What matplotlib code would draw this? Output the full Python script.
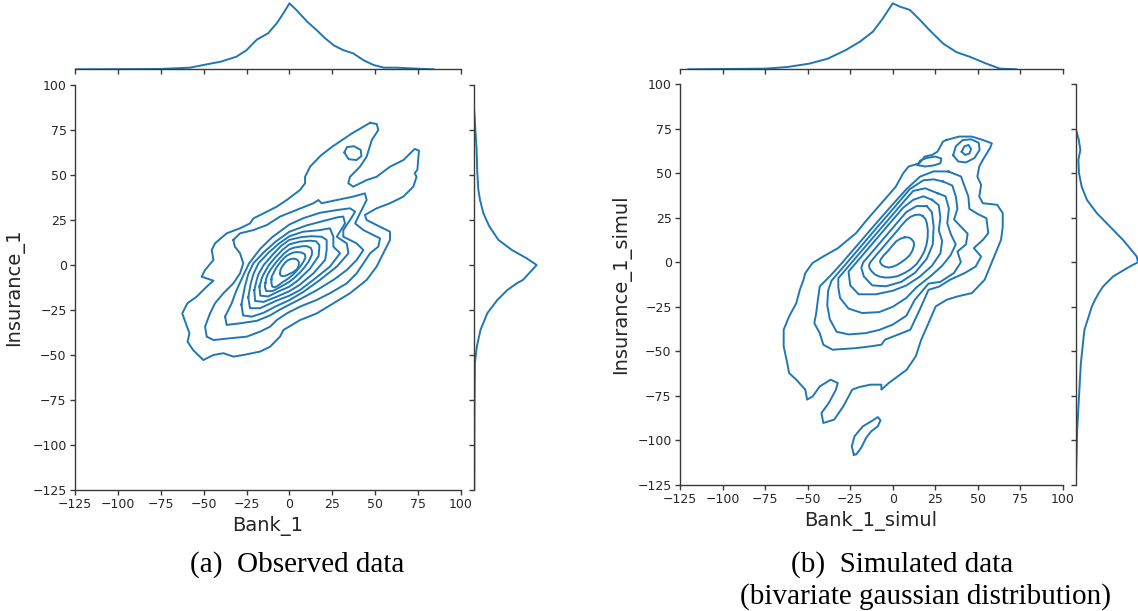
import matplotlib
matplotlib.use("Agg")
import matplotlib.pyplot as plt

BLUE = "#1f77b4"
EDGE = "#3a3a3a"
TEXT = "#262626"

# ---------------- axis ticks ----------------
x_ticks = [-125, -100, -75, -50, -25, 0, 25, 50, 75, 100]
y_ticks = [-125, -100, -75, -50, -25, 0, 25, 50, 75, 100]

# ---------------- marginal densities (relative to peak) ----------------
bank1_x = [-125, -100, -75, -58, -50, -40, -31, -25, -19, -12.5, -7.3, -3, 0, 4,
           10.4, 15.6, 20.8, 26, 31.4, 37.3, 43, 49, 55, 62.5, 70, 84]
bank1_d = [0.0, 0.002, 0.005, 0.025, 0.066, 0.116, 0.19, 0.29, 0.45, 0.545, 0.70,
           0.87, 1.0, 0.90, 0.72, 0.60, 0.47, 0.36, 0.29, 0.24, 0.14, 0.066, 0.025,
           0.025, 0.015, 0.0]

ins1_y = [85, 75.5, 64.4, 51.3, 42, 36.4, 28.9, 21.5, 14, 8.4, 3.7, 0, -8.3, -10.2,
          -13.9, -19.4, -26.7, -36, -45.4, -54.4, -82, -125]
ins1_d = [0.0, 0.016, 0.037, 0.048, 0.064, 0.09, 0.144, 0.24, 0.385, 0.6, 0.84, 1.0,
          0.78, 0.68, 0.53, 0.37, 0.21, 0.1, 0.04, 0.01, 0.003, 0.0]

bank1s_x = [-120, -74.5, -61.8, -49, -38.3, -27.7, -19.2, -11.7, -6.4, 0, 4.1, 10,
            15.9, 21.7, 29.6, 37.4, 45.2, 55, 62.9, 72.7]
bank1s_d = [0.0, 0.01, 0.035, 0.086, 0.16, 0.29, 0.42, 0.57, 0.75, 1.0, 0.95, 0.90,
            0.75, 0.59, 0.39, 0.26, 0.19, 0.086, 0.01, 0.0]

ins1s_y = [75, 68.6, 63, 57.4, 49.9, 42.4, 35, 27.5, 20, 12.5, 3.2, 0, -2.4, -8,
           -13.6, -17.3, -21.1, -24.8, -37.9, -56.6, -75.3, -94, -112.6, -125]
ins1s_d = [0.0, 0.05, 0.075, 0.043, 0.053, 0.096, 0.18, 0.34, 0.55, 0.76, 0.98, 1.0,
           0.87, 0.6, 0.44, 0.37, 0.31, 0.26, 0.14, 0.083, 0.053, 0.024, 0.01, 0.0]

# ---------------- observed data: KDE iso-lines (Bank_1, Insurance_1) ----------------
obs_l1 = [(47, 79), (36.4, 73.1), (24.9, 65.7), (18.5, 61), (12, 54.6), (9.1, 49),
          (9.1, 45.4), (6.2, 41.7), (-1.6, 36.1), (-7.4, 32.4), (-13.2, 29.6), (-21, 25.9),
          (-23, 23.1), (-28.8, 20.4), (-36.6, 17.6), (-43.4, 12), (-45.3, 8.3),
          (-44.3, 2.8), (-49.2, -2.8), (-51.2, -6.5), (-44.3, -8.7), (-48.2, -12),
          (-54.1, -17.6), (-59.5, -21.3), (-62.5, -26.9), (-60.4, -32.4), (-58.3, -37.9),
          (-59.4, -42.6), (-56.2, -47.2), (-50.2, -52.8), (-44.3, -50), (-38.5, -49),
          (-32.7, -50.9), (-26.9, -50), (-17.1, -48.1), (-11.3, -45.4), (-5.5, -39.8),
          (-3.5, -36.1), (6.2, -30.6), (15.9, -26.9), (25.6, -21.3), (35.3, -15.7),
          (45, -8.3), (50.8, -0.9), (54.7, 6.5), (58.6, 13.9), (58.6, 18.5), (50.8, 22.2),
          (45, 25), (44, 27.8), (50.8, 31.5), (58.6, 34.3), (66.4, 38), (72.2, 43.5),
          (74.1, 49), (73, 51), (74.6, 53), (75, 58), (75.5, 63.5), (73, 64.5),
          (66.4, 58.3), (58.6, 54.6), (50.8, 49), (45, 47.2), (37.2, 43.5), (34.3, 45.4),
          (35.3, 49), (41.1, 54.6), (45, 60.2), (48, 69.4), (51.8, 75), (50.9, 78.3)]
obs_island = [(32, 62.5), (33.5, 65.5), (37.5, 66), (41.5, 64), (42, 60.5), (39, 58.3),
              (34.5, 58.8)]
obs_l2 = [(-32.7, 13.9), (-28.8, 17.6), (-21, 19.4), (-13.2, 22.2), (-5.5, 26.9),
          (4.2, 30.6), (13.9, 34.3), (16.9, 36.1), (18.8, 34.3), (27.6, 36.1), (37.2, 38),
          (44, 39.8), (45, 36.1), (42.1, 30.6), (40.2, 27), (38.3, 23.1), (43.1, 19.4),
          (52.8, 14.8), (51.8, 10.2), (47, 6.5), (43.1, 0.9), (39.2, -4.6), (33.4, -10.2),
          (23.6, -15.7), (15.9, -19.4), (6.2, -23.1), (-1.6, -26.9), (-7.4, -30.6),
          (-11.3, -34.3), (-17.1, -37), (-24.9, -39.8), (-34.6, -40.7), (-44.3, -41.7),
          (-48.2, -39.8), (-49.2, -34.3), (-46.3, -26.9), (-43.4, -21.3), (-38.5, -15.7),
          (-32.7, -10.2), (-28.8, -4.6), (-26.9, 0.9), (-28.8, 6.5), (-31.8, 10.2)]
obs_l3 = [(-37.5, -28.7), (-33.7, -21.3), (-30.8, -13.9), (-27, -6), (-23.5, 1),
          (-17, 9), (-10, 15.5), (0, 22.5), (8.1, 26), (17.8, 29), (27.6, 30.5),
          (35.3, 31.5), (38.3, 29.6), (35.3, 25), (31.4, 19.4), (31.4, 15.7), (39.2, 12),
          (43.1, 8.3), (39.2, 2.8), (33.4, -2.8), (25.6, -8.3), (15.9, -14), (6.2, -19),
          (0, -22), (-6, -25), (-11.3, -28), (-19, -31), (-28.8, -32.4), (-36.6, -33.3)]
obs_l4 = [(-28, -22), (-26, -12), (-24, -5), (-21, 1), (-15, 7), (-8, 13), (0, 18.5),
          (10, 22), (20, 24.5), (28, 26.5), (31.4, 26.9), (32.4, 23.1), (27.6, 15.7),
          (33.4, 12), (34.4, 6.5), (27.6, -0.9), (17.8, -8.3), (8, -15), (0, -19.5),
          (-8, -23), (-15, -26.5), (-21.9, -28.7), (-27, -28)]
obs_l5 = [(-24, -18), (-22.5, -10), (-21, -5), (-18, 1), (-12, 7), (-6, 12), (0, 16),
          (8, 18.5), (17.8, 19.4), (23.6, 20.4), (25.6, 15.7), (25.6, 10.2), (29.5, 6.5),
          (23.6, -0.9), (13.9, -8.3), (6, -14), (0, -17), (-8, -20), (-17.1, -24),
          (-23, -24)]
obs_l6 = [(-20.5, -14), (-19, -8), (-18, -5), (-15, 0), (-10, 5.5), (-5, 10.5), (0, 14),
          (7, 15.5), (13, 16), (18.8, 15.7), (21.7, 13.9), (21.7, 8.3), (20.8, 2.8),
          (14, -4.6), (6, -11), (0, -14.5), (-7.4, -17.6), (-15, -20.5), (-20, -20)]
obs_l7 = [(-17.5, -12), (-16, -7), (-15, -5), (-12, 0), (-8, 4.5), (-4, 8.5), (0, 11.5),
          (6, 13), (12, 13.5), (15.5, 13.2), (17.5, 11), (17, 5), (12, -2), (5, -8.5),
          (0, -12), (-6, -14.5), (-12.5, -17.5), (-17, -17)]
obs_l8 = [(-14, -10), (-13.5, -7.4), (-12.5, -5), (-10.9, -2.4), (-9, 0), (-7.3, 2.1),
          (-5.5, 4), (-2.9, 6.6), (0, 8.7), (2.5, 9.6), (5, 10), (7.5, 10.4), (10, 10.5),
          (12.5, 9.5), (13.2, 7.6), (13, 5.5), (11.4, 2.2), (9, -1), (6.1, -4.2), (3, -7),
          (0, -9.3), (-2.5, -10.7), (-5, -12), (-7.5, -13.4), (-10, -14.5),
          (-13.5, -14.5), (-14.3, -12.3)]
obs_l9 = [(-10.5, -8), (-10.3, -6.3), (-9.5, -5), (-8.2, -2.3), (-6.5, 0), (-5, 1.9),
          (-3.5, 3.5), (-1.8, 5), (0, 6), (2.2, 6.9), (4.2, 7.2), (6.8, 7), (9, 6),
          (9.3, 4), (8.3, 2), (6.3, -0.8), (4, -3.5), (2, -5.4), (0, -7), (-2, -8.4),
          (-4, -9.5), (-5.8, -10.8), (-7.5, -12), (-9, -12.4), (-10, -12), (-10.5, -10.2)]
obs_l10 = [(-5.5, -4.8), (-5.2, -2.6), (-4.2, -0.8), (-2.8, 1), (-1.2, 2.5), (1, 3.4),
           (3, 3.5), (4.6, 2.9), (5.5, 1.6), (5.4, -0.3), (4.5, -2.2), (2.6, -3.7),
           (0.3, -4.8), (-1.8, -5.8), (-3.8, -6.3), (-5, -5.9)]

# ---------------- simulated data: KDE iso-lines (Bank_1_simul, Insurance_1_simul) ----------------
sim_l1 = [(31.6, 68.6), (39, 70.5), (46.5, 70.5), (52.9, 68.6), (58.2, 66.7), (57.1, 64),
          (52.9, 57.4), (50.8, 53.7), (49.7, 48.1), (51.9, 43.4), (50.8, 36.9), (52.9, 33.1),
          (61.4, 32.2), (64.6, 27.5), (64.6, 20), (63.6, 12.6), (60.4, 5.1), (57.2, -2.3),
          (54, -9.8), (46.5, -17.3), (38, -19.2), (31.6, -21.1), (25.2, -24.8), (21, -34.2),
          (16.7, -43.5), (13.5, -52.8), (8.2, -60.3), (-2.4, -67.8), (-6.7, -71.5),
          (-6.7, -68.7), (-13.1, -68.7), (-19.5, -70), (-23.8, -71.5), (-29.1, -80.9),
          (-34.4, -88.3), (-40.8, -90.2), (-41.9, -84.6), (-37.6, -79), (-33.4, -71.5),
          (-32.3, -67.8), (-36.5, -65.9), (-42.9, -69.7), (-47.1, -75.3), (-50.3, -77.1),
          (-51.4, -71.5), (-56.7, -65.9), (-60.9, -62.2), (-62, -56.6), (-64.1, -47.2),
          (-64.1, -37.9), (-60.9, -30.4), (-56.7, -23), (-54.6, -15.5), (-52.5, -10),
          (-51.4, -6.1), (-47.1, -0.4), (-40.7, 3.3), (-32.2, 7.9), (-21.6, 16.3),
          (-15.2, 23.8), (-6.7, 33.1), (1.8, 42.4), (6.1, 49.9), (9.3, 53.7), (15.6, 55.5),
          (18.8, 59.3), (23.1, 60.2), (26.3, 62.1), (29.5, 67.7)]
sim_tail_island = [(-22.9, -107.9), (-24.1, -103.3), (-22.5, -97.7), (-17.6, -92.1),
                   (-12.7, -89.3), (-8.8, -86.9), (-7.2, -88.7), (-8.8, -92.1),
                   (-12.7, -94.9), (-15.7, -98.6), (-18.6, -104.2), (-21.5, -107.9)]
sim_top_loop = [(35.5, 60), (37, 65), (41, 68.5), (46, 69), (50.5, 67), (51, 63),
                (48, 58.5), (43, 56), (38.5, 56.5)]
sim_top_core = [(40.5, 62), (42, 65), (44.5, 65.8), (46, 63.5), (45, 61), (42.5, 60.2)]
sim_left_island = [(14.6, 54.5), (16, 57), (20, 58.5), (25, 59.3), (28.5, 58.2),
                   (28, 55.5), (24, 54.3), (19, 53.7)]
sim_l2 = [(32.7, 50.9), (40.1, 48.1), (42.2, 42.5), (44.4, 36.9), (45, 30), (50, 27),
          (55, 24.7), (56.1, 16.3), (53, 12.6), (47.6, 7.9), (51.9, 3.2), (48.7, -2.4),
          (42.2, -6.1), (33.7, -9.8), (27.4, -13.6), (21, -15.5), (16.7, -24.8),
          (10.3, -37.9), (-4.6, -43.5), (-6.7, -46.3), (-13.1, -47.2), (-21.6, -48.2),
          (-35.4, -49.1), (-40.8, -46.3), (-42.9, -39.8), (-46.1, -34.2), (-45, -28.6),
          (-44, -21.1), (-42.9, -13.6), (-36.5, -7.4), (-30.1, -0.7), (-20, 10.5),
          (-10, 21.6), (0, 32.5), (8, 41), (16, 48), (24, 51)]
sim_l3 = [(29.5, 45.3), (35, 43), (37, 37), (38, 30), (36, 24), (40, 20), (44, 16),
          (43, 10), (38, 6), (40, 0), (36, -6), (28, -11), (21, -12), (13, -21), (8, -30),
          (0, -35), (-8, -38), (-16, -39.8), (-26, -40.5), (-33, -39), (-37, -32),
          (-38.5, -24), (-38, -16), (-36, -10.4), (-28, -1.5), (-18, 9.7), (-8, 20.9),
          (2, 32), (10, 41), (18, 46), (24, 46.5)]
sim_l4 = [(26.3, 38.7), (31, 37), (33, 30), (32, 22), (34, 16), (37, 10), (34, 4),
          (29, -2), (22, -8), (14, -14), (8, -20), (0, -25), (-8, -28), (-18, -28.5),
          (-26, -26), (-31, -20), (-32, -14), (-32, -9), (-24, 0), (-14, 11.2),
          (-4, 22.3), (6, 33.5), (12, 40), (19, 41.5)]
sim_l5 = [(23.1, 35), (27, 32), (28, 25), (27, 18), (29, 12), (28, 5), (23, -2), (16, -8),
          (8, -13), (0, -16), (-10, -18), (-20, -18), (-25, -13), (-26, -5.2), (-21, 0.3),
          (-12, 10.4), (-2, 21.6), (6, 30.5), (12, 35), (18, 37)]
sim_l6 = [(20, 31.5), (23, 28), (24, 20), (23.5, 10), (20, 2), (13, -6), (5, -11),
          (-4, -13.5), (-12, -13), (-17, -8), (-18.5, -3), (-17.3, 0), (-10, 8.1),
          (0, 19.3), (8, 28.2), (14, 31.5)]
sim_l7 = [(17.5, 26), (19.2, 24.3), (20, 22), (20.6, 18), (20.5, 14), (19.8, 9.8),
          (18.5, 6), (16.4, 2.3), (14, -1), (10.6, -3.9), (7, -6), (3, -7.8), (-1, -8.5),
          (-4.6, -8.6), (-8, -8), (-10.6, -6.8), (-12.5, -5), (-13.6, -3.4), (-14, -2),
          (-13.2, 0), (-9.8, 3.9), (-6, 8.1), (-2, 12.6), (2, 17), (5, 20.5), (8, 23.7),
          (10.5, 25.5), (13, 26.5), (15.5, 26.7)]
sim_l8 = [(7, 14), (9.3, 13.9), (11, 13), (12.3, 11.3), (12.5, 9.5), (11.6, 6.6), (10, 4),
          (7.6, 1.8), (5, 0), (2.4, -1.6), (0, -2.5), (-2.4, -3), (-4.5, -2.5),
          (-6.3, -1.6), (-7.2, -0.5), (-7.5, 0.6), (-7, 1.7), (-5.3, 3.9), (-3, 6.1),
          (-0.5, 9), (2, 11.7), (4.5, 13.2)]

obs_lines = [obs_l1, obs_island, obs_l2, obs_l3, obs_l4, obs_l5, obs_l6, obs_l7,
             obs_l8, obs_l9, obs_l10]
sim_lines = [sim_l1, sim_tail_island, sim_top_loop, sim_top_core, sim_left_island,
             sim_l2, sim_l3, sim_l4, sim_l5, sim_l6, sim_l7, sim_l8]

# ---------------- figure ----------------
W, H = 1138, 611
fig = plt.figure(figsize=(W / 100, H / 100), dpi=100)
plt.rcParams["font.family"] = ["DejaVu Sans"]


def box(x0, y0, x1, y1):
    return [x0 / W, 1 - y1 / H, (x1 - x0) / W, (y1 - y0) / H]


def style_spines(ax, keep):
    for side in ["left", "right", "top", "bottom"]:
        ax.spines[side].set_visible(side in keep)
        ax.spines[side].set_color(EDGE)
        ax.spines[side].set_linewidth(1.0)
    ax.tick_params(colors=EDGE, labelcolor=TEXT, length=3.5, width=1.0, direction="out",
                   labelsize=9, pad=2.5)


def panel(main_box, top_box, right_box, lines, mx, md, my, mdy):
    ax = fig.add_axes(box(*main_box))
    for ln in lines:
        xs = [p[0] for p in ln] + [ln[0][0]]
        ys = [p[1] for p in ln] + [ln[0][1]]
        ax.plot(xs, ys, color=BLUE, lw=1.4, solid_joinstyle="round")
    ax.set_xlim(-125, 100)
    ax.set_ylim(-125, 100)
    ax.set_xticks(x_ticks)
    ax.set_yticks(y_ticks)
    style_spines(ax, ["left", "bottom"])

    at = fig.add_axes(box(*top_box))
    at.plot(mx, md, color=BLUE, lw=1.4)
    at.set_xlim(-125, 100)
    at.set_ylim(0, 1.05)
    at.set_xticks(x_ticks)
    at.set_yticks([])
    style_spines(at, ["bottom"])
    at.tick_params(labelbottom=False)

    ar = fig.add_axes(box(*right_box))
    ar.plot(mdy, my, color=BLUE, lw=1.4)
    ar.set_ylim(-125, 100)
    ar.set_xlim(0, 1.05)
    ar.set_yticks(y_ticks)
    ar.set_xticks([])
    style_spines(ar, ["left"])
    ar.tick_params(labelleft=False)
    return ax


panel((75, 85, 461, 490), (75, 0, 461, 69.3), (474.3, 85, 539.8, 490),
      obs_lines, bank1_x, bank1_d, ins1_y, ins1_d)
panel((680, 84, 1063, 485), (680, 0, 1063, 69.3), (1075.7, 84, 1141.1, 485),
      sim_lines, bank1s_x, bank1s_d, ins1s_y, ins1s_d)

# axis labels
fig.text(268 / W, 1 - 530.5 / H, "Bank_1", fontsize=14, color=TEXT, ha="center",
         va="baseline")
fig.text(871 / W, 1 - 526 / H, "Bank_1_simul", fontsize=14, color=TEXT, ha="center",
         va="baseline")
fig.text(15 / W, 1 - 287 / H, "Insurance_1", fontsize=14, color=TEXT, ha="center",
         va="center", rotation=90)
fig.text(621 / W, 1 - 284.5 / H, "Insurance_1_simul", fontsize=14, color=TEXT,
         ha="center", va="center", rotation=90)

# captions
serif = ["Liberation Serif", "DejaVu Serif"]
fig.text(297 / W, 1 - 572 / H, "(a)  Observed data", fontsize=21, family=serif,
         color="black", ha="center", va="baseline")
fig.text(902 / W, 1 - 572 / H, "(b)  Simulated data", fontsize=21, family=serif,
         color="black", ha="center", va="baseline")
fig.text(925 / W, 1 - 604 / H, "(bivariate gaussian distribution)", fontsize=21,
         family=serif, color="black", ha="center", va="baseline")

fig.savefig("out.png", dpi=100)
